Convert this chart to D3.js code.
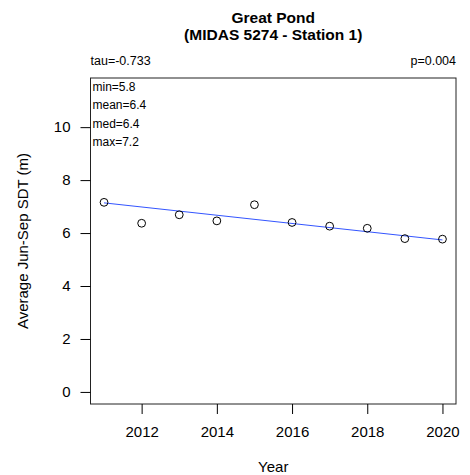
<!DOCTYPE html>
<html><head><meta charset="utf-8">
<script src="https://cdn.jsdelivr.net/npm/d3@7"></script>
<style>body{margin:0;background:#fff}svg{display:block}text{font-family:"Liberation Sans",Arial,sans-serif}</style>
</head><body><svg id="c" width="470" height="475"></svg>
<script>
const years = [2011,2012,2013,2014,2015,2016,2017,2018,2019,2020];
const sdt = [7.16,6.37,6.69,6.46,7.07,6.40,6.26,6.18,5.79,5.77];
const trendYears = [2011,2020];
const trendValues = [7.14,5.74];
const xTicks = [2012,2014,2016,2018,2020];
const yTicks = [0,2,4,6,8,10];
const title1 = "Great Pond";
const title2 = "(MIDAS 5274 - Station 1)";
const tauLabel = "tau=-0.733";
const pLabel = "p=0.004";
const statLabels = ["min=5.8","mean=6.4","med=6.4","max=7.2"];

const svg = d3.select("#c");
const L=90.5, R=456, T=78, B=404;
const x = d3.scaleLinear().domain([2010.64,2020.36]).range([L,R]);
const y = d3.scaleLinear().domain([-0.456,11.856]).range([B,T]);

svg.append("rect").attr("x",L).attr("y",T).attr("width",R-L).attr("height",B-T)
  .attr("fill","none").attr("stroke","#222").attr("stroke-width",1);

const ya = svg.append("g").attr("transform",`translate(${L},0)`)
  .call(d3.axisLeft(y).tickValues(yTicks).tickSize(10).tickPadding(10).tickFormat(d3.format("d")));
ya.select(".domain").remove();
ya.selectAll("text").attr("font-size",15).attr("fill","#000");

const xa = svg.append("g").attr("transform",`translate(0,${B})`)
  .call(d3.axisBottom(x).tickValues(xTicks).tickSize(10).tickPadding(12).tickFormat(d3.format("d")));
xa.select(".domain").remove();
xa.selectAll("text").attr("font-size",15).attr("fill","#000");

svg.append("path").datum(trendYears.map((t,i)=>[t,trendValues[i]]))
  .attr("d",d3.line().x(d=>x(d[0])).y(d=>y(d[1])))
  .attr("stroke","#3355ff").attr("stroke-width",1).attr("fill","none");

svg.selectAll("circle.pt").data(years).enter().append("circle")
  .attr("cx",d=>x(d)).attr("cy",(d,i)=>y(sdt[i])).attr("r",3.9)
  .attr("fill","none").attr("stroke","#000").attr("stroke-width",1);

svg.append("text").attr("x",(L+R)/2).attr("y",23).attr("text-anchor","middle")
  .attr("font-size",15.5).attr("font-weight","bold").text(title1);
svg.append("text").attr("x",(L+R)/2).attr("y",40).attr("text-anchor","middle")
  .attr("font-size",15.5).attr("font-weight","bold").text(title2);

svg.append("text").attr("x",L).attr("y",65).attr("font-size",12.5).text(tauLabel);
svg.append("text").attr("x",R).attr("y",65).attr("text-anchor","end").attr("font-size",12.5).text(pLabel);

svg.selectAll("text.stat").data(statLabels).enter().append("text")
  .attr("x",L+2).attr("y",(d,i)=>91+i*18.3).attr("font-size",12).text(d=>d);

svg.append("text").attr("x",(L+R)/2).attr("y",472).attr("text-anchor","middle").attr("font-size",15).text("Year");
svg.append("text").attr("transform",`translate(28,${(T+B)/2}) rotate(-90)`).attr("text-anchor","middle")
  .attr("font-size",15).text("Average Jun-Sep SDT (m)");
</script></body></html>
